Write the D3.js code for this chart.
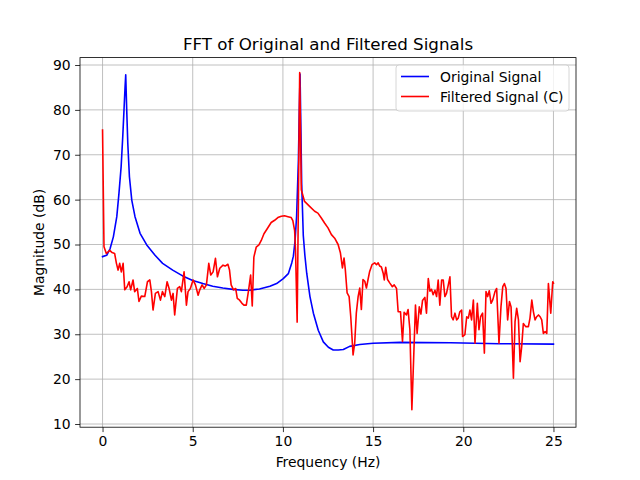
<!DOCTYPE html>
<html>
<meta charset="utf-8">
<style>
 body { margin: 0; background: #fff; }
 text { font-family: "DejaVu Sans", sans-serif; fill: #000; }
 .tick text { font-size: 13.9px; }
 .tick line { stroke: #000; stroke-width: 0.8px; }
 .domain { display: none; }
 #title_text { font-size: 16.7px; }
 .label_text { font-size: 13.9px; }
 .legend_text { font-size: 13.9px; }
</style>
<body>
<script src="https://cdn.jsdelivr.net/npm/d3@7"></script>
<script>

var width = 640
var height = 480

// tick labels
var xTicks = [0, 5, 10, 15, 20, 25]
var yTicks = [10, 20, 30, 40, 50, 60, 70, 80, 90]

// Original Signal (blue)
var origFreq = [0, 0.23, 0.42, 0.6, 0.79, 0.91, 1.03, 1.12, 1.19, 1.25, 1.285, 1.34, 1.4, 1.49, 1.62,
  1.8, 2.08, 2.45, 2.91, 3.33, 3.89, 4.44, 5, 5.56, 6.11, 6.67, 7.22, 7.78, 8.15, 8.7, 9.28,
  9.65, 10.02, 10.3, 10.49, 10.58, 10.67, 10.76, 10.86, 10.9, 10.95, 11, 11.04, 11.13, 11.22,
  11.32, 11.5, 11.69, 11.96, 12.24, 12.52, 12.79, 13.07, 13.35, 13.7, 14.26, 15, 16.5, 19.3, 22, 25]
var origMag = [47.3, 47.6, 49.1, 51.7, 56.2, 61.4, 67.3, 74, 80, 85.2, 87.8, 80, 72.5, 65.1, 59.9,
  56.2, 52.5, 49.9, 47.6, 45.8, 44.3, 43, 42, 41.3, 40.7, 40.3, 40, 39.8, 39.8, 40.1, 40.7,
  41.3, 42.4, 43.5, 45.9, 47.4, 50.7, 56.3, 68.9, 78, 88, 75, 63.7, 52, 47.5,
  43.6, 38.4, 34.7, 30.9, 28.3, 27.1, 26.5, 26.5, 26.6, 27.3, 27.7, 28, 28.2, 28.1, 27.9, 27.8]

// Filtered Signal (C) (red)
var filtFreq = [0, 0.08, 0.21, 0.4, 0.53, 0.67, 0.77, 0.86, 0.95, 1.04, 1.14, 1.23, 1.36, 1.47, 1.56,
  1.69, 1.78, 1.93, 2.02, 2.15, 2.34, 2.49, 2.62, 2.71, 2.8, 2.93, 3.08, 3.21, 3.32, 3.45, 3.58,
  3.69, 3.82, 3.91, 4, 4.15, 4.28, 4.37, 4.52, 4.65, 4.74, 4.87, 5.02, 5.15, 5.3, 5.39, 5.52,
  5.63, 5.76, 5.89, 6, 6.13, 6.26, 6.37, 6.5, 6.68, 6.8, 6.95, 7.04, 7.13, 7.26, 7.38, 7.47,
  7.6, 7.73, 7.84, 7.97, 8.1, 8.21, 8.3, 8.39, 8.52, 8.67, 8.8, 8.95, 9.13, 9.35, 9.54, 9.72,
  9.91, 10.09, 10.28, 10.46, 10.55, 10.65, 10.7, 10.79, 10.86, 10.93, 11.02, 11.2, 11.48, 11.76,
  11.94, 12.13, 12.31, 12.5, 12.69, 12.87, 13.06, 13.19, 13.3, 13.39, 13.46, 13.56, 13.67, 13.76,
  13.89, 13.98, 14.07, 14.17, 14.26, 14.35, 14.44, 14.54, 14.63, 14.72, 14.81, 14.94, 15.09,
  15.19, 15.28, 15.37, 15.46, 15.56, 15.62, 15.7, 15.8, 15.93, 16.07, 16.17, 16.3, 16.39, 16.52,
  16.63, 16.72, 16.85, 16.94, 17.04, 17.15, 17.24, 17.35, 17.44, 17.56, 17.65, 17.74, 17.87,
  17.96, 18.06, 18.15, 18.24, 18.33, 18.43, 18.52, 18.61, 18.7, 18.8, 18.89, 18.98, 19.07,
  19.17, 19.26, 19.35, 19.44, 19.54, 19.63, 19.72, 19.81, 19.91, 19.96, 20.09, 20.19, 20.28,
  20.37, 20.46, 20.56, 20.65, 20.78, 20.87, 20.96, 21.07, 21.17, 21.26, 21.35, 21.44, 21.54,
  21.63, 21.76, 21.85, 21.98, 22.09, 22.19, 22.28, 22.37, 22.46, 22.56, 22.65, 22.78, 22.87,
  22.96, 23.06, 23.15, 23.24, 23.33, 23.46, 23.61, 23.7, 23.8, 23.89, 23.98, 24.07, 24.17,
  24.26, 24.35, 24.44, 24.54, 24.63, 24.72, 24.85, 24.96, 25]
var filtMag = [75.5, 49.5, 48, 48.7, 48.2, 48, 45.8, 44.3, 45.8, 43.9, 45.8, 39.9, 40.6, 41.7, 39.9,
  42.1, 39.5, 40.2, 37.3, 38.5, 38.4, 41.7, 42.1, 39.5, 35.4, 39.1, 39.5, 37.6, 39.5, 38.4, 41.7,
  40.2, 37.6, 39.1, 34.3, 40.2, 40.6, 39.5, 43.9, 36.5, 39.5, 40.2, 42.1, 41, 38.7, 39.9, 41,
  40.2, 41, 45.8, 43.2, 43.9, 46.9, 42.8, 44.7, 45.4, 45.2, 45.6, 44.3, 41, 39.9, 40.2, 38,
  37.6, 36.9, 36.5, 36.5, 39.9, 43.2, 36.3, 47.2, 49.4, 49.9, 50.9, 52.4, 53.5, 54.9, 55.4, 56,
  56.3, 56.4, 56.2, 56, 55.3, 53.1, 48.7, 32.7, 60, 88.3, 62.2, 59.6, 58.5, 57.4,
  57, 55.9, 54.8, 53.7, 52.2, 51.4, 50, 48.1, 44.8, 47, 44.4, 39.2, 38.4, 34,
  25.4, 28, 34.7, 38.4, 40.3, 35.5, 42.2, 41.8, 40.3, 42.2, 44, 45.5, 45.9,
  45.5, 45.9, 45.2, 45, 43.6, 42.1, 44.9, 42.2, 41.4, 40.6, 41, 40.2, 35, 35,
  28.4, 34.9, 34.3, 35.5, 31, 13.2, 23.6, 36.5, 30.2, 36.1, 34.5, 37.5, 38.2,
  34.7, 42.4, 39.6, 40, 38.8, 39.8, 38.4, 42.1, 36.5, 42.1, 42.1, 38.4, 39.1,
  41, 42.8, 33.9, 33.2, 34.7, 33.2, 33.6, 35, 35.4, 29.5, 29.9, 33.9, 33.6,
  35.4, 33.2, 37.6, 28, 36.9, 31, 33.9, 34.7, 25.8, 39.5, 38.4, 39.7, 36.9,
  37.6, 39.5, 40.2, 28, 36.1, 40.6, 41.3, 40.2, 33.2, 37.3, 36.1, 20.2, 32.8,
  35.8, 33.2, 23.9, 27.3, 32.4, 31.7, 31.7, 33.6, 37.6, 35, 33.2, 33.9, 34.3,
  33.9, 33.2, 30.2, 30.6, 30.2, 41.3, 34.7, 41.7, 41.4]

var seriesNames = ["Original Signal", "Filtered Signal (C)"]
var seriesColors = ["#0000ff", "#ff0000"]

// axes box, as matplotlib places it in a 640x480 figure
var axLeft = 80, axRight = 576, axTop = 57.6, axBottom = 427.2

var svg = d3.select("body")
  .append("svg")
  .attr("width", width)
  .attr("height", height);

var x = d3.scaleLinear().domain([-1.25, 26.25]).range([axLeft, axRight]);
var y = d3.scaleLinear().domain([9.287, 91.65]).range([axBottom, axTop]);

// grid
svg.append("g").selectAll("line").data(xTicks).enter().append("line")
  .attr("x1", d => x(d)).attr("x2", d => x(d))
  .attr("y1", axTop).attr("y2", axBottom)
  .attr("stroke", "#b0b0b0").attr("stroke-width", 0.8);
svg.append("g").selectAll("line").data(yTicks).enter().append("line")
  .attr("x1", axLeft).attr("x2", axRight)
  .attr("y1", d => y(d)).attr("y2", d => y(d))
  .attr("stroke", "#b0b0b0").attr("stroke-width", 0.8);

svg.append("clipPath").attr("id", "plotclip")
  .append("rect").attr("x", axLeft).attr("y", axTop)
  .attr("width", axRight - axLeft).attr("height", axBottom - axTop);

var line = d3.line().x(d => x(d[0])).y(d => y(d[1]));
var series = [d3.zip(origFreq, origMag), d3.zip(filtFreq, filtMag)];

svg.append("g").attr("clip-path", "url(#plotclip)")
  .selectAll("path").data(series).enter().append("path")
  .attr("d", line)
  .attr("fill", "none")
  .attr("stroke", (d, i) => seriesColors[i])
  .attr("stroke-width", 1.6)
  .attr("stroke-linejoin", "round")
  .attr("stroke-linecap", "square");

// axes
svg.append("g")
  .attr("transform", "translate(0," + axBottom + ")")
  .call(d3.axisBottom(x).tickValues(xTicks).tickSize(4.9).tickPadding(4.4));
svg.append("g")
  .attr("transform", "translate(" + axLeft + ",0)")
  .call(d3.axisLeft(y).tickValues(yTicks).tickSize(4.9).tickPadding(4.4));

svg.append("rect")
  .attr("x", axLeft).attr("y", axTop)
  .attr("width", axRight - axLeft).attr("height", axBottom - axTop)
  .attr("fill", "none").attr("stroke", "#000").attr("stroke-width", 0.8);

// legend
var lg = svg.append("g");
lg.append("rect")
  .attr("x", 396).attr("y", 65).attr("width", 173).attr("height", 46)
  .attr("rx", 3).attr("fill", "#fff").attr("fill-opacity", 0.8)
  .attr("stroke", "#cccccc").attr("stroke-width", 0.8);
lg.selectAll("line").data(seriesNames).enter().append("line")
  .attr("x1", 401).attr("x2", 429)
  .attr("y1", (d, i) => 76.5 + i * 20).attr("y2", (d, i) => 76.5 + i * 20)
  .attr("stroke", (d, i) => seriesColors[i]).attr("stroke-width", 1.6);
lg.selectAll("text").data(seriesNames).enter().append("text")
  .attr("class", "legend_text")
  .attr("x", 440)
  .attr("y", (d, i) => 81.5 + i * 20)
  .text(d => d);

// titles
svg.append("text")
  .attr("id", "title_text")
  .attr("x", (axLeft + axRight) / 2)
  .attr("y", 49.5)
  .attr("text-anchor", "middle")
  .text("FFT of Original and Filtered Signals");

svg.append("text")
  .attr("class", "label_text")
  .attr("x", (axLeft + axRight) / 2)
  .attr("y", 467)
  .attr("text-anchor", "middle")
  .text("Frequency (Hz)");

svg.append("text")
  .attr("class", "label_text")
  .attr("transform", "translate(44," + (axTop + axBottom) / 2 + ") rotate(-90)")
  .attr("text-anchor", "middle")
  .text("Magnitude (dB)");

</script>
</body>
</html>
